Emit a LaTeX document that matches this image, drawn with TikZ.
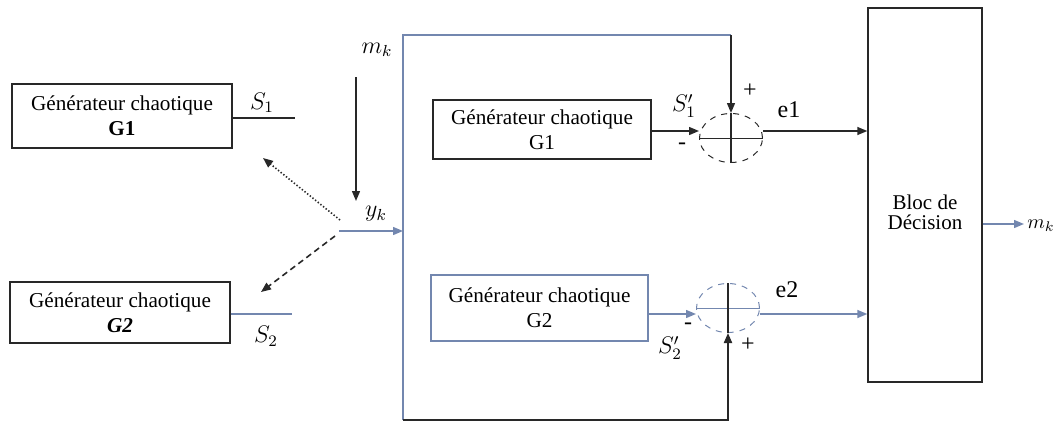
\documentclass[tikz,border=0pt]{standalone}
\usepackage{fontspec}
\setmainfont{Liberation Serif}
\usetikzlibrary{arrows.meta,shapes.geometric}
\definecolor{bgray}{RGB}{115,135,175}
\definecolor{dgray}{RGB}{40,40,40}
\begin{document}
\begin{tikzpicture}[x=0.5pt,y=-0.5pt,
  >={Triangle[length=5pt,width=4pt]},
  blk/.style={draw=dgray, line width=0.7pt, align=center, inner sep=0pt, font=\fontsize{10.6}{12.5}\selectfont},
  sumj/.style={draw=dgray, dashed, ellipse, line width=0.5pt, minimum width=31.5pt, minimum height=24.5pt, inner sep=0pt},
  wire/.style={line width=0.7pt, draw=dgray},
  bwire/.style={line width=0.7pt, draw=bgray},
  lbl/.style={inner sep=0pt, font=\large}]
\useasboundingbox (0,0) rectangle (1056,423);
% left generators
\node[blk, minimum width=110pt, minimum height=32pt] (g1) at (122,116) {Générateur chaotique\\\textbf{G1}};
\node[blk, draw=dgray, minimum width=110pt, minimum height=30.5pt] (g2) at (120,312.5) {Générateur chaotique\\\textbf{\textit{G2}}};
\coordinate (s1e) at (295,118);
\coordinate (s2e) at (292,314);
\draw[wire] (g1.east |- s1e) -- (s1e);
\draw[bwire] (g2.east |- s2e) -- (s2e);
\node[lbl] (ls1) at (262,103) {$S_1$};
\node[lbl] (ls2) at (266,336) {$S_2$};
% switch
\coordinate (sw1) at (340,220);
\coordinate (sw2) at (335,236);
\coordinate (t1) at (263,158);
\coordinate (t2) at (261,292);
\draw[wire, densely dotted, line width=0.8pt, ->] (sw1) -- (t1);
\draw[wire, dashed, dash pattern=on 3pt off 2pt, line width=0.8pt, ->] (sw2) -- (t2);
% m_k input
\node[lbl] (mk) at (377,50) {$m_k$};
\coordinate (mkt) at (356,77);
\coordinate (mkb) at (356,201);
\draw[wire, ->] (mkt) -- (mkb);
% y_k
\coordinate (yk0) at (339,231);
\coordinate (bus) at (403,231);
\node[lbl] (lyk) at (376,214) {$y_k$};
\draw[bwire, ->] (yk0) -- (bus);
% bus
\coordinate (bt) at (403,35);
\coordinate (bb) at (403,420);
% inner generators
\node[blk, minimum width=109pt, minimum height=29.5pt] (g1i) at (542,129.5) {Générateur chaotique\\G1};
\node[blk, draw=bgray, minimum width=108.5pt, minimum height=33pt] (g2i) at (539.5,308) {Générateur chaotique\\G2};
% summers
\node[sumj] (s1) at (731,138) {};
\node[sumj, draw=bgray] (s2) at (728,308) {};
\draw[wire, line width=0.5pt] (s1.west) -- (s1.east);
\draw[bwire, line width=0.5pt] (s2.west) -- (s2.east);
\draw[wire] (s1.north) -- (s1.south);
\draw[wire] (s2.north) -- (s2.south);
% decision
\node[draw=dgray, line width=0.7pt, minimum width=57pt, minimum height=187pt, inner sep=0pt] (dec) at (925,195) {};
\node[align=center, font=\fontsize{10.5}{10}\selectfont, inner sep=0pt] (dtxt) at (925,212) {Bloc de\\Décision};
% bus wiring
\draw[bwire] (bb) -- (bt) -- (bt -| s1.north);
\draw[wire, ->] (bt -| s1.north) -- (s1.north);
\draw[wire, line width=1pt, ->] (bb) -- (bb -| s2.south) -- (s2.south);
% generator outputs to summers
\coordinate (a1) at (651,131);
\draw[wire, ->] (g1i.east |- a1) -- (a1 -| s1.west);
\coordinate (a2) at (648,314);
\draw[bwire, ->] (g2i.east |- a2) -- (a2 -| s2.west);
% summer outputs
\draw[wire, ->] (s1.east |- a1) -- (a1 -| dec.west);
\draw[bwire, ->] (s2.east |- a2) -- (a2 -| dec.west);
% output
\coordinate (oe) at (1024,224);
\draw[bwire, ->] (dec.east |- oe) -- (oe);
\node[lbl, font=\normalsize] (mko) at (1041,226) {$m_k$};
% summer labels
\node[lbl] (ls1p) at (684,106) {$S_1'$};
\node[lbl] (m1) at (682,146) {-};
\node[lbl] (p1) at (750,91) {+};
\node[lbl] (le1) at (789,110) {e1};
\node[lbl] (ls2p) at (670,348) {$S_2'$};
\node[lbl] (m2) at (688,326) {-};
\node[lbl] (p2) at (748,345) {+};
\node[lbl] (le2) at (787,290) {e2};
\end{tikzpicture}
\end{document}
